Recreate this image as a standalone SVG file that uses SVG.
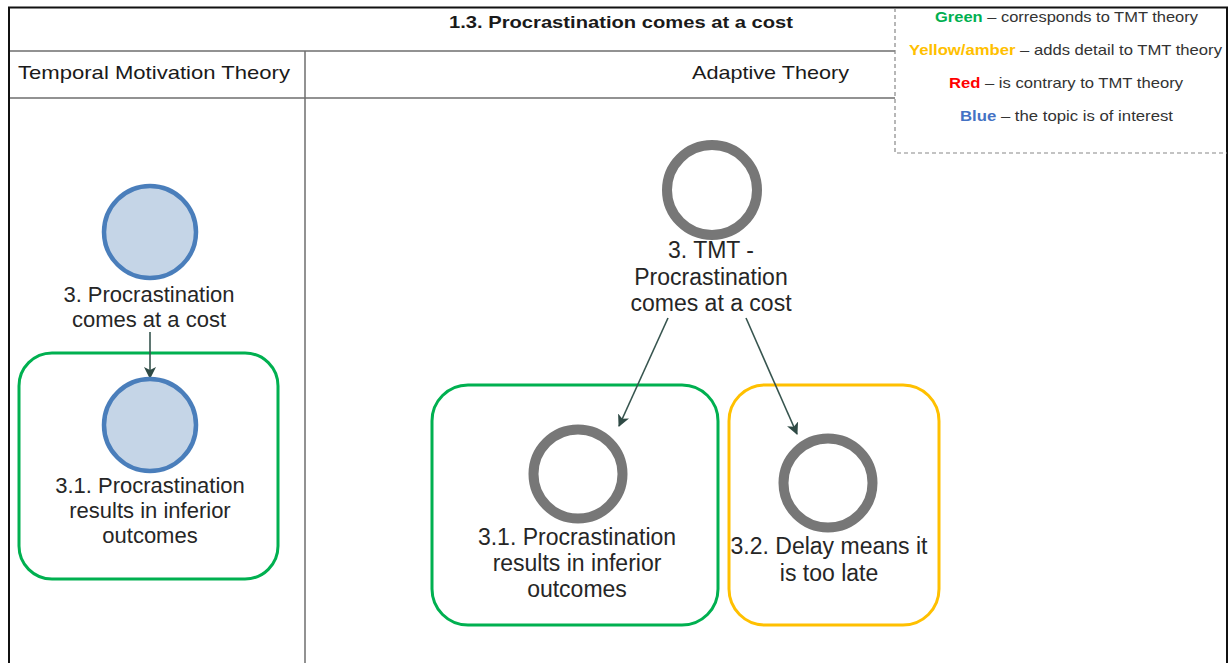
<svg xmlns="http://www.w3.org/2000/svg" width="1229" height="663" viewBox="0 0 1229 663">
  <style>
    .hdr { font-family: "Liberation Sans", Arial, sans-serif; fill: #1a1a1a; }
    .title { font-size: 17px; font-weight: bold; }
    .col { font-size: 19px; }
    .leg { font-family: "Liberation Sans", Arial, sans-serif; font-size: 15px; fill: #333; }
    .leg .k { font-weight: bold; }
    .grid { stroke: #6e6e6e; stroke-width: 1.5; fill: none; }
    .lbl { font-family: "Liberation Sans", Arial, sans-serif; fill: #262626; text-anchor: middle; }
    .l22 { font-size: 22px; }
    .l23 { font-size: 23px; }
    .topic { fill: #c5d5e7; stroke: #4a7ebb; stroke-width: 4.5; }
    .ring { fill: #fff; stroke: #777; stroke-width: 10; }
    .grp-green { fill: none; stroke: #00b050; stroke-width: 3; }
    .grp-amber { fill: none; stroke: #ffc000; stroke-width: 3; }
    .edge { stroke: #37554f; stroke-width: 1.6; fill: none; marker-end: url(#arrow); }
  </style>
  <defs>
    <marker id="arrow" viewBox="0 0 12 12" refX="11" refY="6" markerWidth="12" markerHeight="12" markerUnits="userSpaceOnUse" orient="auto">
      <path d="M0,0 L12,6 L0,12 L3,6 Z" fill="#2f4a45"/>
    </marker>
  </defs>

  <rect width="1229" height="663" fill="#fff"/>

  <!-- table frame -->
  <g id="table">
    <line class="grid" x1="9" y1="51" x2="895" y2="51"/>
    <line class="grid" x1="9" y1="98" x2="895" y2="98"/>
    <line class="grid" x1="305" y1="51" x2="305" y2="663"/>
    <path d="M9,663 V7.5 H1227 V663" fill="none" stroke="#111" stroke-width="2"/>
    <text class="hdr title" x="621" y="28" text-anchor="middle" textLength="344" lengthAdjust="spacingAndGlyphs">1.3. Procrastination comes at a cost</text>
    <text class="hdr col" x="18" y="79" textLength="272" lengthAdjust="spacingAndGlyphs">Temporal Motivation Theory</text>
    <text class="hdr col" x="692" y="79" textLength="157" lengthAdjust="spacingAndGlyphs">Adaptive Theory</text>
  </g>

  <!-- colour key -->
  <g id="legend">
    <path d="M895,8 V153 H1227" fill="none" stroke="#888" stroke-width="1.2" stroke-dasharray="4 3"/>
    <text class="leg" x="935" y="22" textLength="263" lengthAdjust="spacingAndGlyphs"><tspan class="k" fill="#00b050">Green</tspan> – corresponds to TMT theory</text>
    <text class="leg" x="909" y="55" textLength="313" lengthAdjust="spacingAndGlyphs"><tspan class="k" fill="#ffc000">Yellow/amber</tspan> – adds detail to TMT theory</text>
    <text class="leg" x="949" y="88" textLength="234" lengthAdjust="spacingAndGlyphs"><tspan class="k" fill="#ff0000">Red</tspan> – is contrary to TMT theory</text>
    <text class="leg" x="960" y="121" textLength="213" lengthAdjust="spacingAndGlyphs"><tspan class="k" fill="#4472c4">Blue</tspan> – the topic is of interest</text>
  </g>

  <!-- group frames -->
  <g id="group-tmt-31">
    <rect class="grp-green" x="19" y="353" width="259" height="226" rx="33"/>
  </g>
  <g id="group-adaptive-31">
    <rect class="grp-green" x="432" y="385" width="286" height="240" rx="36"/>
  </g>
  <g id="group-adaptive-32">
    <rect class="grp-amber" x="729" y="385" width="210" height="240" rx="36"/>
  </g>

  <!-- connectors -->
  <g id="connectors">
    <line class="edge" x1="150" y1="332" x2="150" y2="378"/>
    <line class="edge" x1="668" y1="318" x2="619" y2="426"/>
    <line class="edge" x1="746" y1="318" x2="797" y2="434"/>
  </g>

  <!-- Temporal Motivation Theory column -->
  <g id="node-tmt-3">
    <circle class="topic" cx="150" cy="232" r="46"/>
    <text class="lbl l22" x="149" y="302">3. Procrastination</text>
    <text class="lbl l22" x="149" y="327">comes at a cost</text>
  </g>
  <g id="node-tmt-31">
    <circle class="topic" cx="150" cy="425" r="46"/>
    <text class="lbl l22" x="150" y="493">3.1. Procrastination</text>
    <text class="lbl l22" x="150" y="518">results in inferior</text>
    <text class="lbl l22" x="150" y="543">outcomes</text>
  </g>

  <!-- Adaptive Theory column -->
  <g id="node-adaptive-3">
    <circle class="ring" cx="712" cy="190" r="45"/>
    <text class="lbl l23" x="711" y="258">3. TMT -</text>
    <text class="lbl l23" x="711" y="285">Procrastination</text>
    <text class="lbl l23" x="711" y="311">comes at a cost</text>
  </g>
  <g id="node-adaptive-31">
    <circle class="ring" cx="578" cy="474" r="44.5"/>
    <text class="lbl l23" x="577" y="545">3.1. Procrastination</text>
    <text class="lbl l23" x="577" y="571">results in inferior</text>
    <text class="lbl l23" x="577" y="597">outcomes</text>
  </g>
  <g id="node-adaptive-32">
    <circle class="ring" cx="828" cy="483" r="44.5"/>
    <text class="lbl l23" x="829" y="554">3.2. Delay means it</text>
    <text class="lbl l23" x="829" y="581">is too late</text>
  </g>
</svg>
